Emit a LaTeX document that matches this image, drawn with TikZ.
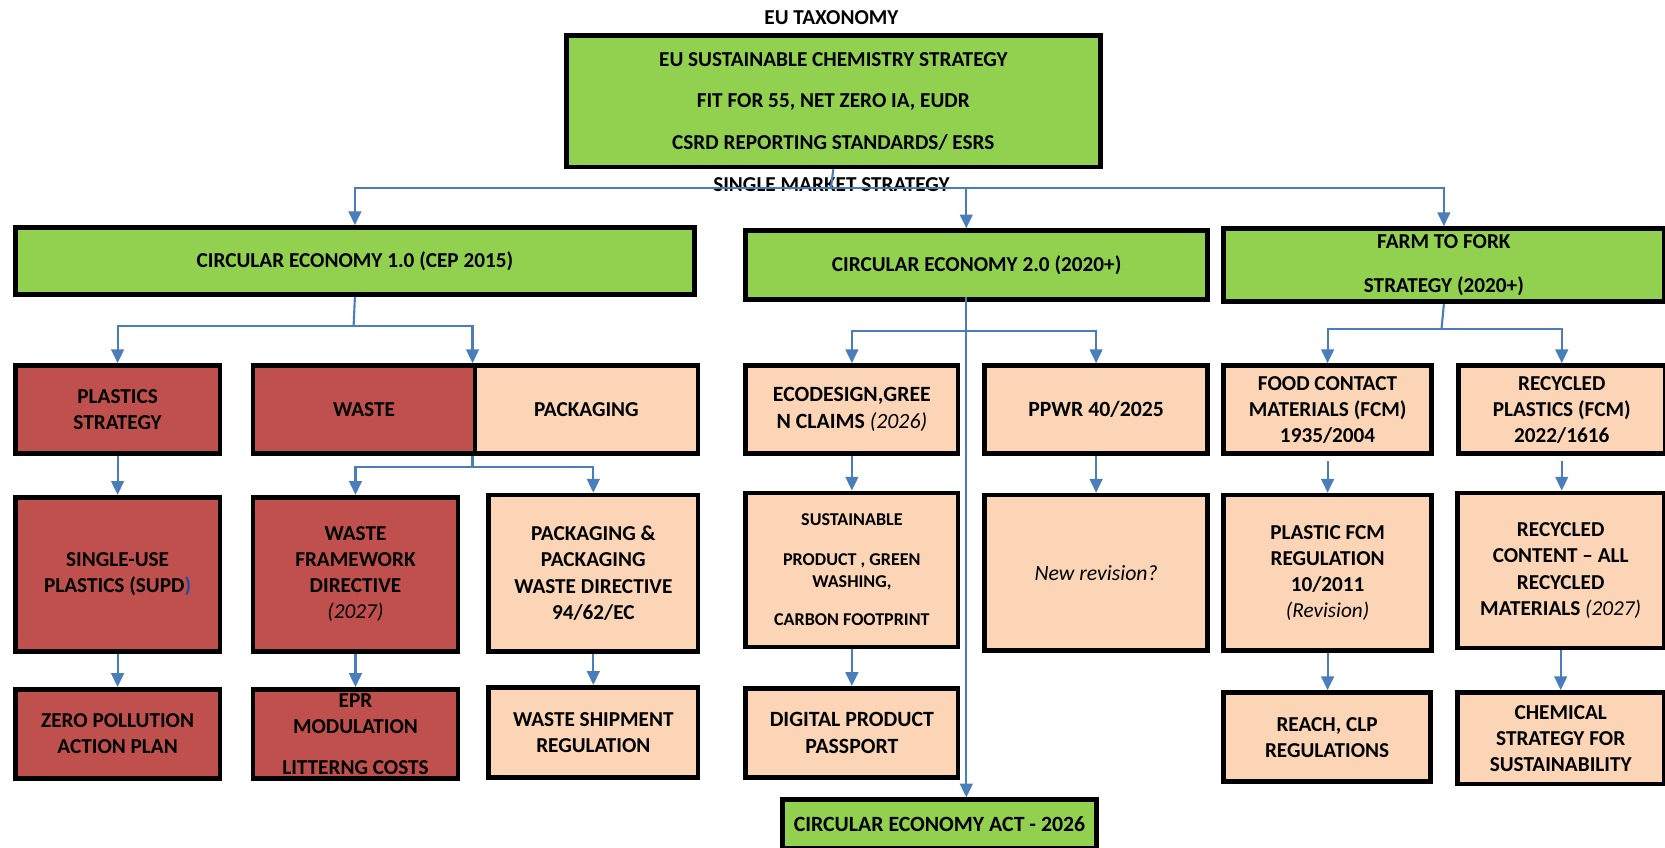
\documentclass[tikz,border=0pt]{standalone}
\usepackage{fontspec}
\setmainfont{Carlito}
\usetikzlibrary{arrows.meta}
\definecolor{cgreen}{HTML}{92D050}
\definecolor{cred}{HTML}{C0504D}
\definecolor{cpeach}{HTML}{FBD5B5}
\definecolor{cblue}{HTML}{4A7EBB}
\definecolor{cdblue}{HTML}{1F4E9E}
\newcommand\bx[6][]{\node[box,#1,minimum width={(#5-#3)*1pt},minimum height={(#6-#4)*1pt},anchor=north west] (#2) at (#3,#4)}
\begin{document}
\begin{tikzpicture}[x=1pt,y=-1pt,
  box/.style={draw=black,line width=4.5pt,inner sep=0pt,align=center},
  gbox/.style={fill=cgreen},
  rbox/.style={fill=cred},
  pbox/.style={fill=cpeach},
  cal/.style={font=\fontsize{20}{24.5}\selectfont\bfseries},
  calm/.style={font=\fontsize{20.5}{25}\selectfont\bfseries},
  ln/.style={draw=cblue,line width=2pt},
  arr/.style={ln,-{Triangle[length=13pt,width=12pt]}},
  lbl/.style={font=\fontsize{20}{24}\selectfont\bfseries,inner sep=0pt}]
\useasboundingbox (0,0) rectangle (1568,798);

% titles
\node[lbl] (tax) at (783,17) {EU TAXONOMY};
\node[lbl] (smk) at (783,174) {SINGLE MARKET STRATEGY};

% top
\bx[gbox,font=\fontsize{20}{39}\selectfont\bfseries]{top}{531}{31}{1034}{155}
  {EU SUSTAINABLE CHEMISTRY STRATEGY\\FIT FOR 55, NET ZERO IA, EUDR\\CSRD REPORTING STANDARDS/ ESRS};

% level 2
\bx[gbox,cal]{ce1}{12}{212}{652}{275}{CIRCULAR ECONOMY 1.0 (CEP 2015)};
\bx[gbox,cal]{ce2}{700}{215}{1135}{280}{CIRCULAR ECONOMY 2.0 (2020+)};
\bx[gbox,font=\fontsize{20}{41}\selectfont\bfseries]{f2f}{1150}{213}{1565}{282}{FARM TO FORK\\STRATEGY (2020+)};

% left column
\bx[rbox,cal]{plast}{12}{342}{205}{425}{PLASTICS\\STRATEGY};
\bx[rbox,cal]{waste}{236}{342}{445}{425}{WASTE};
\bx[pbox,cal]{pack}{445}{342}{655}{425}{PACKAGING};
\bx[rbox,cal]{supd}{12}{466}{205}{611}{SINGLE-USE\\PLASTICS (SUPD\textcolor{cdblue}{)}};
\bx[rbox,cal]{wfd}{236}{466}{429}{611}{WASTE\\FRAMEWORK\\DIRECTIVE\\{\mdseries\itshape (2027)}};
\bx[pbox,cal]{ppwd}{458}{464}{655}{611}{PACKAGING \&\\PACKAGING\\WASTE DIRECTIVE\\94/62/EC};
\bx[rbox,cal]{zero}{12}{647}{205}{731}{ZERO POLLUTION\\ACTION PLAN};
\bx[rbox,cal]{epr}{236}{647}{429}{731}{EPR\\MODULATION\\[14pt]LITTERNG COSTS};
\bx[pbox,cal]{wsr}{458}{645}{655}{730}{WASTE SHIPMENT\\REGULATION};

% middle column
\bx[pbox,calm]{eco}{700}{342}{900}{425}{ECODESIGN,GREE\\N CLAIMS {\mdseries\itshape (2026)}};
\bx[pbox,calm]{ppwr}{925}{342}{1135}{425}{PPWR 40/2025};
\bx[pbox,font=\fontsize{17}{21}\selectfont\bfseries]{sust}{700}{462}{900}{607}{SUSTAINABLE\\[16pt]PRODUCT , GREEN\\WASHING,\\[15pt]CARBON FOOTPRINT};
\bx[pbox,font=\fontsize{20.5}{25}\selectfont\itshape]{newrev}{925}{464}{1135}{610}{New revision?};
\bx[pbox,calm]{dpp}{700}{646}{900}{730}{DIGITAL PRODUCT\\PASSPORT};
\bx[gbox,calm]{ceact}{735}{751}{1030}{797}{CIRCULAR ECONOMY ACT - 2026};

% right column
\bx[pbox,cal]{fcm}{1150}{342}{1346}{425}{FOOD CONTACT\\MATERIALS (FCM)\\1935/2004};
\bx[pbox,cal]{rp}{1371}{342}{1566}{425}{RECYCLED\\PLASTICS (FCM)\\2022/1616};
\bx[pbox,cal]{pfcm}{1150}{464}{1346}{610}{PLASTIC FCM\\REGULATION\\10/2011\\{\mdseries\itshape (Revision)}};
\bx[pbox,cal]{rc}{1370}{462}{1565}{608}{RECYCLED\\CONTENT – ALL\\RECYCLED\\MATERIALS {\mdseries\itshape (2027)}};
\bx[pbox,cal]{reach}{1150}{650}{1345}{734}{REACH, CLP\\REGULATIONS};
\bx[pbox,cal]{chem}{1370}{650}{1565}{736}{CHEMICAL\\STRATEGY FOR\\SUSTAINABILITY};

% connectors
\coordinate (j0) at (782.5,177);
\coordinate (c2x) at (910,280);
\draw[ln] (top.south) -- (j0);
\draw[arr] (j0) -| (ce1.north);
\draw[arr] (j0) -| (c2x |- ce2.north);
\draw[arr] (j0) -| (f2f.north);

\coordinate (j1) at (333,307);
\draw[ln] (ce1.south) -- (j1);
\draw[arr] (j1) -| (plast.north);
\draw[arr] (j1) -| (pack.north west);
\coordinate (j2) at (445,440);
\draw[ln] (pack.south west) -- (j2);
\draw[arr] (j2) -| (wfd.north);
\draw[arr] (j2) -| (ppwd.north);
\draw[arr] (plast.south) -- (plast.south |- supd.north);
\draw[arr] (supd.south) -- (supd.south |- zero.north);
\draw[arr] (wfd.south) -- (wfd.south |- epr.north);
\draw[arr] (ppwd.south) -- (ppwd.south |- wsr.north);

\coordinate (j3) at (910,312);
\draw[arr] (c2x) -- (c2x |- ceact.north);
\draw[arr] (j3) -| (eco.north);
\draw[arr] (j3) -| (ppwr.north);
\draw[arr] (eco.south) -- (eco.south |- sust.north);
\draw[arr] (sust.south) -- (sust.south |- dpp.north);
\draw[arr] (ppwr.south) -- (ppwr.south |- newrev.north);

\coordinate (j4) at (1357.5,310);
\draw[ln] (f2f.south) -- (j4);
\draw[arr] (j4) -| (fcm.north);
\draw[arr] (j4) -| (rp.north);
\draw[arr,shorten <=5pt] (fcm.south) -- (fcm.south |- pfcm.north);
\draw[arr,shorten <=5pt] (rp.south) -- (rp.south |- rc.north);
\draw[arr] (pfcm.south) -- (pfcm.south |- reach.north);
\draw[arr] (rc.south) -- (rc.south |- chem.north);
\end{tikzpicture}
\end{document}
